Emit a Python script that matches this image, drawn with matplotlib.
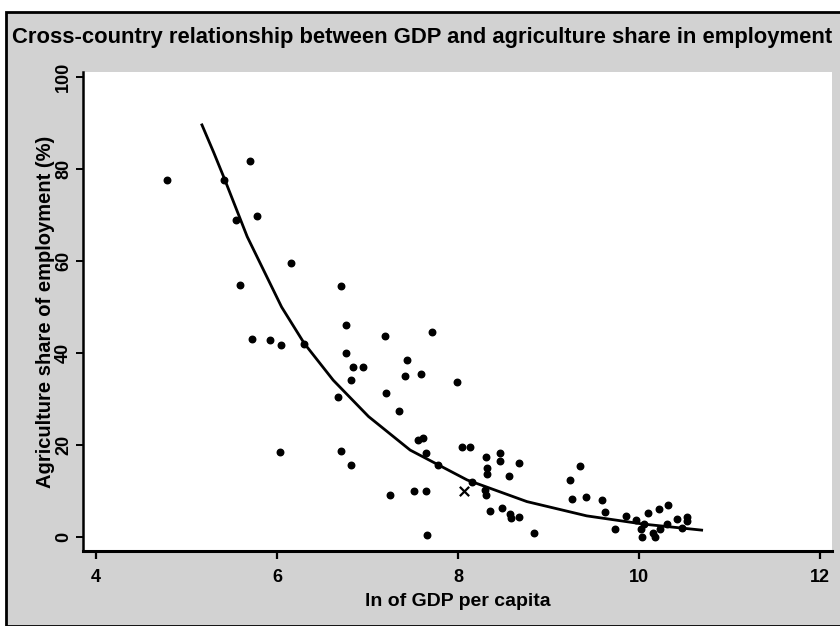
import numpy as np
import matplotlib
matplotlib.use("Agg")
import matplotlib.pyplot as plt
from matplotlib.patches import Rectangle

plt.rcParams['font.family'] = ['Liberation Sans', 'DejaVu Sans']

# log GDP per capita and agriculture share of employment, by country
ln_gdp = [4.78, 5.70, 5.41, 5.78, 5.55, 6.15, 5.59,
          5.72, 5.92, 6.04, 6.30, 6.03,
          6.71, 6.76, 7.19, 7.71, 6.76, 6.84, 6.95, 7.43, 6.82, 7.41, 7.59,
          7.99, 6.67, 7.20, 7.35,
          6.71, 6.82, 7.56, 7.61, 7.65, 7.78, 8.04, 8.13, 7.25, 7.51, 7.65, 7.66,
          8.31, 8.46, 8.46, 8.67, 8.32, 8.32, 8.56, 8.15, 8.30, 8.31, 8.35,
          8.49, 8.57, 8.58, 8.67, 8.84, 9.35, 9.24, 9.26, 9.41,
          9.59, 9.62, 9.73, 9.85, 9.97, 10.02, 10.03, 10.10, 10.05, 10.15,
          10.17, 10.22, 10.32, 10.23, 10.31, 10.42, 10.53, 10.53, 10.47]
agri_share = [77.6, 81.8, 77.6, 69.9, 68.9, 59.5, 54.8,
              43.0, 42.8, 41.7, 42.0, 18.5,
              54.6, 46.2, 43.7, 44.6, 39.9, 37.0, 37.0, 38.5, 34.1, 35.1, 35.4,
              33.7, 30.4, 31.4, 27.3,
              18.8, 15.7, 21.1, 21.5, 18.2, 15.7, 19.6, 19.6, 9.1, 10.1, 10.0, 0.4,
              17.5, 18.2, 16.5, 16.2, 14.9, 13.8, 13.3, 12.0, 10.2, 9.1, 5.7,
              6.2, 4.9, 4.2, 4.4, 0.9, 15.5, 12.4, 8.2, 8.6,
              8.0, 5.4, 1.7, 4.6, 3.7, 1.7, -0.1, 5.3, 2.8, 0.8,
              -0.1, 6.1, 7.0, 1.7, 2.8, 3.9, 4.4, 3.5, 1.9]

# highlighted country
mark_gdp = [8.06]
mark_share = [10.1]

# fitted curve
fit_gdp = [5.17, 5.30, 5.41, 5.67, 6.05, 6.30, 6.62, 7.01, 7.47, 7.78,
           8.10, 8.76, 9.42, 10.05, 10.69]
fit_share = [89.6, 83.6, 78.3, 65.3, 50.0, 42.1, 34.1, 26.2, 18.9, 15.7,
             12.4, 7.7, 4.6, 2.8, 1.5]

fig = plt.figure(figsize=(8.4, 6.26), dpi=100)
fig.patch.set_facecolor('white')

# grey graph region with black frame
frame = Rectangle((6 / 840, 0), 1, 1 - 12 / 626, transform=fig.transFigure,
                  facecolor='#d2d2d2', edgecolor='black', linewidth=2, zorder=-5)
fig.add_artist(frame)

ax = fig.add_axes([83 / 840, 1 - 551 / 626, 749 / 840, 479 / 626])
ax.set_zorder(2)
ax.set_facecolor('white')

ax.plot(fit_gdp, fit_share, color='black', linewidth=2, zorder=2)
ax.scatter(ln_gdp, agri_share, s=22, color='black', zorder=3)
ax.scatter(mark_gdp, mark_share, s=45, marker='x', color='black', linewidths=1.6, zorder=3)

ax.set_xlim(3.856, 12.13)
ax.set_ylim(-3.04, 101.1)
ax.set_xticks([4, 6, 8, 10, 12])
ax.set_yticks([0, 20, 40, 60, 80, 100])

for s in ['top', 'right']:
    ax.spines[s].set_visible(False)
ax.spines['left'].set_linewidth(1.8)
ax.spines['bottom'].set_linewidth(2.2)

ax.tick_params(axis='x', direction='out', length=6, width=1.6, labelsize=13, pad=7)
ax.tick_params(axis='y', direction='out', length=5, width=1.4, labelsize=13, pad=3)
for lab in ax.get_xticklabels():
    lab.set_fontweight('bold')
for lab in ax.get_yticklabels():
    lab.set_fontweight('bold')
    lab.set_rotation(90)
    lab.set_va('center')

ax.set_xlabel('ln of GDP per capita', fontsize=14, fontweight='bold', labelpad=5)
ax.set_ylabel('Agriculture share of employment (%)', fontsize=14.5, fontweight='bold', labelpad=0)

fig.text(12 / 840, 1 - 38 / 626,
         'Cross-country relationship between GDP and agriculture share in employment',
         fontsize=15.8, fontweight='bold', va='center', ha='left')

fig.savefig('out.png', dpi=100)
